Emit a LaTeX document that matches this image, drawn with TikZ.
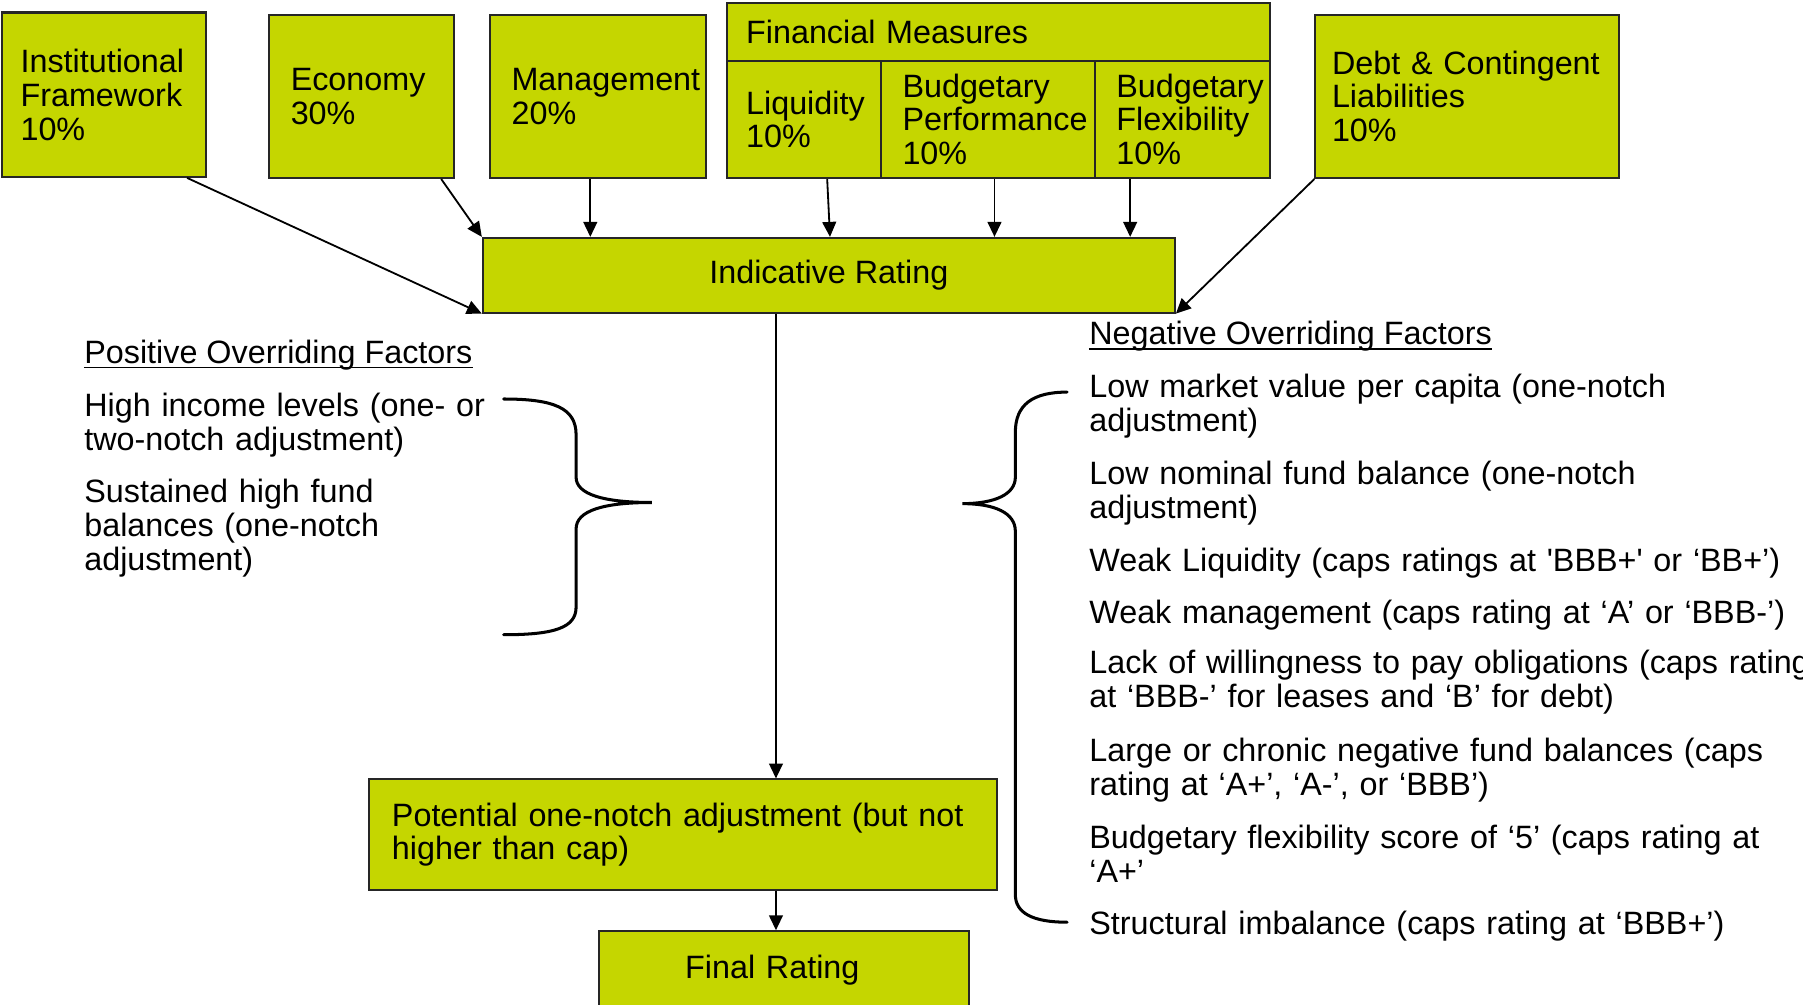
\documentclass[tikz,border=0pt]{standalone}
\usepackage{fontspec}
\setmainfont{Liberation Sans}
\usetikzlibrary{arrows.meta,calc}
\definecolor{rgreen}{RGB}{197,214,0}
\hyphenpenalty=10000
\exhyphenpenalty=10000
\tikzset{
box/.style={draw=black!85,fill=rgreen,line width=1pt,inner sep=0pt,anchor=north west,align=left},
arr/.style={line width=0.9pt,-{Triangle[length=0.26cm,width=0.24cm]}},
head/.style={anchor=base west,inner sep=0pt},
item/.style={anchor=base west,inner sep=0pt,text width=14cm,align=left},
brace/.style={line width=1.5pt,line cap=round},
}
\begin{document}
\begin{tikzpicture}[x=0.02cm,y=-0.02cm,font=\fontsize{16pt}{16.8pt}\selectfont]
\useasboundingbox(0,0)rectangle(1568,874);
% weighted factors
\node[box,minimum width=3.54cm,minimum height=2.86cm,text width=2.9cm](inst)at(1,10){Institutional\\Framework\\10\%};
\node[box,minimum width=3.22cm,minimum height=2.84cm,text width=2.46cm](econ)at(233,12){Economy\\30\%};
\node[box,minimum width=3.76cm,minimum height=2.84cm,text width=3cm](mgmt)at(425,12){Management\\20\%};
\node[box,minimum width=9.46cm,minimum height=1cm,text width=8.78cm](finh)at(631,2){Financial Measures\par\vspace*{0.12cm}};
\node[box,minimum width=2.68cm,minimum height=2.04cm,text width=2cm](liq)at(631,52){Liquidity\\10\%};
\node[box,minimum width=3.72cm,minimum height=2.04cm,text width=2.96cm](bperf)at(765,52){Budgetary\\Performance\\10\%};
\node[box,minimum width=3.06cm,minimum height=2.04cm,text width=2.3cm](bflex)at(951,52){Budgetary\\Flexibility\\10\%};
\node[box,minimum width=5.28cm,minimum height=2.84cm,text width=4.7cm](debt)at(1143,12){Debt \& Contingent\\Liabilities\\10\%};
%
\node[box,minimum width=12.04cm,minimum height=1.3cm,align=center](ind)at(419,206){Indicative Rating};
\node[box,minimum width=10.92cm,minimum height=1.92cm,text width=10.12cm](pot)at(320,677){Potential one-notch adjustment (but not\\higher than cap)};
\node[box,minimum width=6.44cm,minimum height=1.36cm,text width=3.44cm](final)at(520,809){Final Rating};
%
\draw[arr]($(inst.south east)+(-17,0)$)--(ind.south west);
\draw[arr]($(econ.south east)+(-12,0)$)--(ind.north west);
\draw[arr]($(mgmt.south)+(-6.5,0)$)coordinate(a)--(a|-ind.north);
\draw[arr]($(liq.south)+(20.5,0)$)--($(ind.north)+(1,0)$);
\draw[arr]($(bperf.south)+(6,0)$)coordinate(b)--(b|-ind.north);
\draw[arr]($(bflex.south)+(-45.5,0)$)coordinate(c)--(c|-ind.north);
\draw[arr](debt.south west)--(ind.south east);
\draw[arr]($(ind.south)+(-46,0)$)coordinate(d)--(d|-pot.north);
\draw[arr](d|-pot.south)--(d|-final.north);
% overriding factors
\node[head](posh)at(73,316){Positive Overriding Factors};
\draw[line width=0.8pt]([yshift=-0.07cm]posh.base west)--([yshift=-0.07cm]posh.base east);
\node[item](pos1)at(73,362){High income levels (one- or\\two-notch adjustment)};
\node[item](pos2)at(73,437){Sustained high fund\\balances (one-notch\\adjustment)};
\draw[brace](438,347)..controls(482,347)and(501,355)..(501,378)--(501,415)..controls(501,430)and(525,437)..(567,437)..controls(525,437)and(501,444)..(501,460)--(501,528)..controls(501,546)and(482,552)..(438,552);
%
\node[head](negh)at(947,300){Negative Overriding Factors};
\draw[line width=0.8pt]([yshift=-0.07cm]negh.base west)--([yshift=-0.07cm]negh.base east);
\node[item](neg1)at(947,346){Low market value per capita (one-notch\\adjustment)};
\node[item](neg2)at(947,421){Low nominal fund balance (one-notch\\adjustment)};
\node[item](neg3)at(947,497){Weak Liquidity (caps ratings at \textquotesingle BBB+\textquotesingle{} or ‘BB+’)};
\node[item](neg4)at(947,542){Weak management (caps rating at ‘A’ or ‘BBB-’)};
\node[item](neg5)at(947,586){Lack of willingness to pay obligations (caps rating\\at ‘BBB-’ for leases and ‘B’ for debt)};
\node[item](neg6)at(947,662){Large or chronic negative fund balances (caps\\rating at ‘A+’, ‘A-’, or ‘BBB’)};
\node[item](neg7)at(947,738){Budgetary flexibility score of ‘5’ (caps rating at\\‘A+’};
\node[item](neg8)at(947,813){Structural imbalance (caps rating at ‘BBB+’)};
\draw[brace](928,341)..controls(898,341)and(883,352)..(883,376)--(883,415)..controls(883,430)and(865,438)..(837,438)..controls(865,438)and(883,446)..(883,462)--(883,778)..controls(883,794)and(898,802)..(928,802);
\end{tikzpicture}
\end{document}
